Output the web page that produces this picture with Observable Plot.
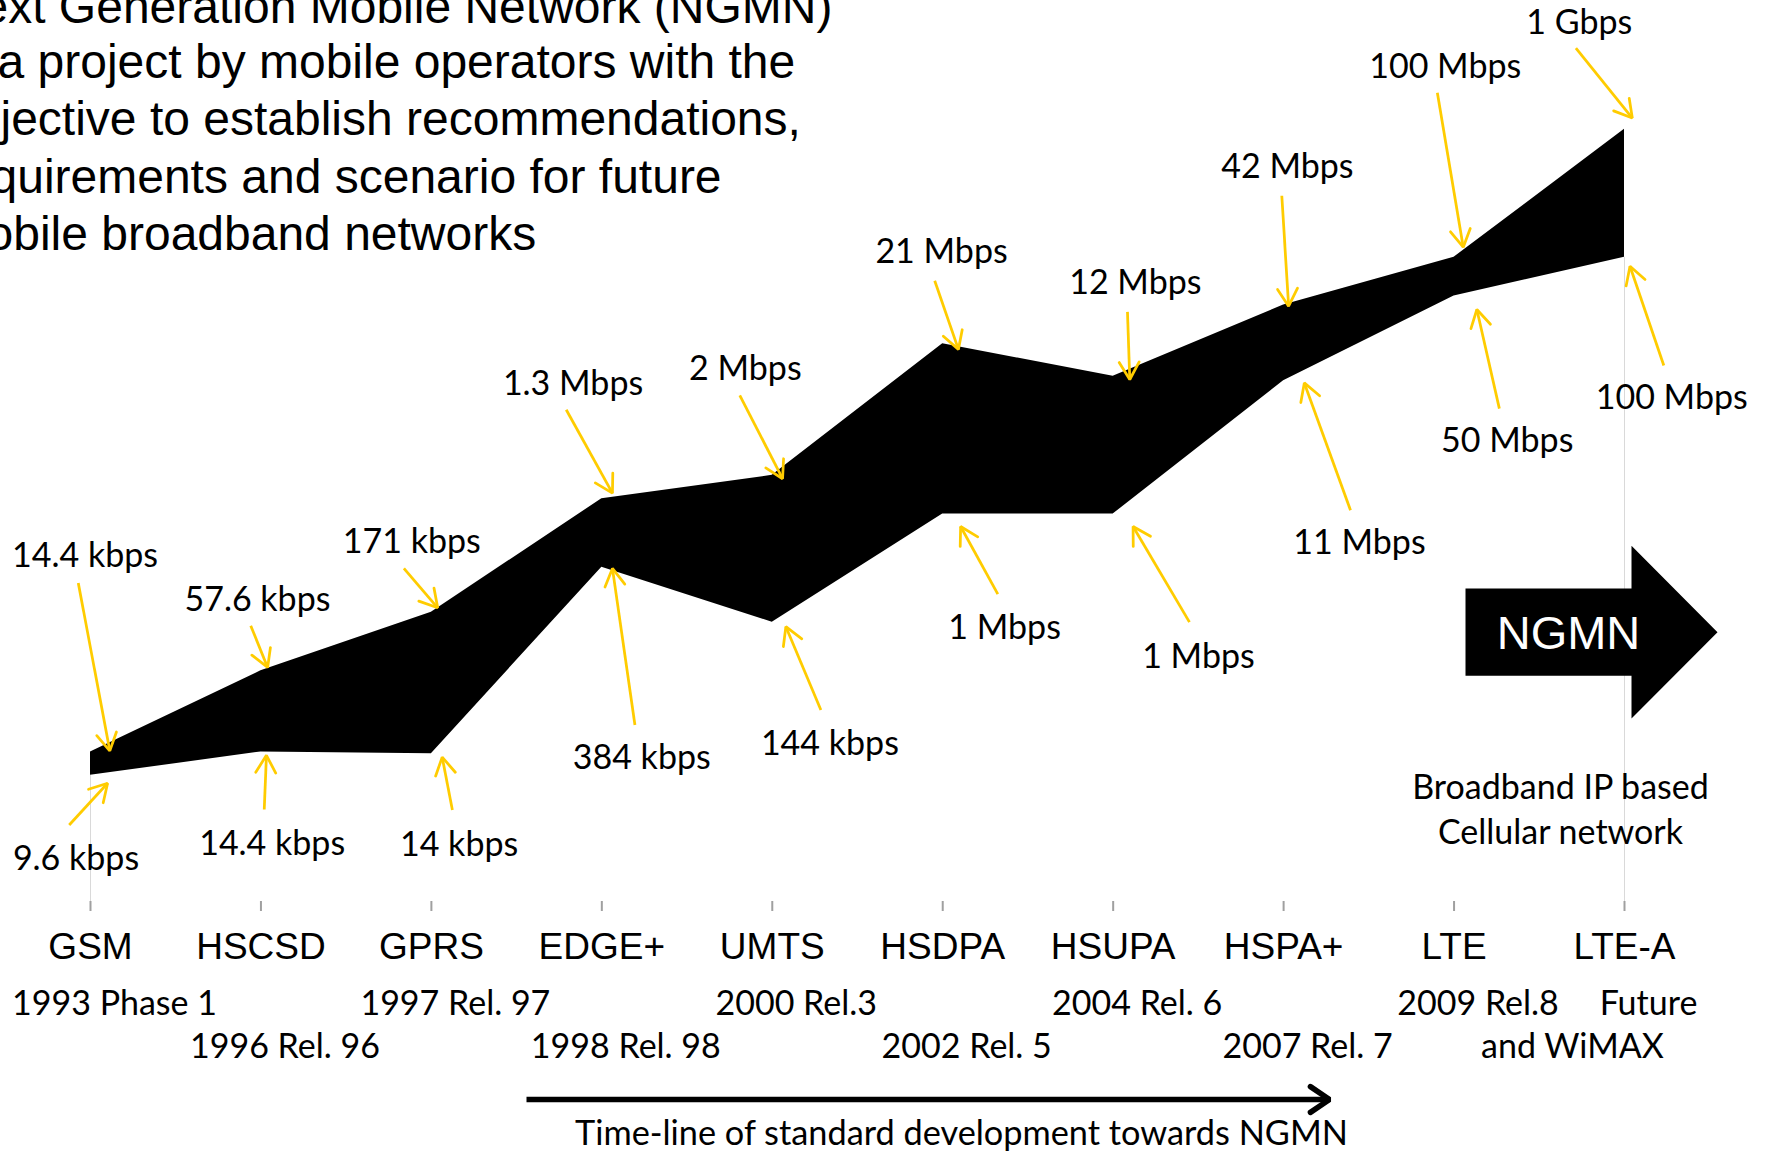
<!DOCTYPE html>
<html>
<head>
<meta charset="utf-8">
<script src="https://cdn.jsdelivr.net/npm/d3@7"></script>
<script src="https://cdn.jsdelivr.net/npm/@observablehq/plot@0.6"></script>
<style>
  html, body { margin: 0; padding: 0; background: #fff; overflow: hidden; }
  #chart svg { display: block; }
</style>
</head>
<body>
<div id="chart"></div>
<script>
// ---------------- data ----------------
const techs = ["GSM", "HSCSD", "GPRS", "EDGE+", "UMTS", "HSDPA", "HSUPA", "HSPA+", "LTE", "LTE-A"];
const releases = ["1993 Phase 1", "1996 Rel. 96", "1997 Rel. 97", "1998 Rel. 98", "2000 Rel.3",
                  "2002 Rel. 5", "2004 Rel. 6", "2007 Rel. 7", "2009 Rel.8", "Future"];
const releaseExtra = "and WiMAX";
const peakLabels = ["14.4 kbps", "57.6 kbps", "171 kbps", "1.3 Mbps", "2 Mbps",
                    "21 Mbps", "12 Mbps", "42 Mbps", "100 Mbps", "1 Gbps"];
const baseLabels = ["9.6 kbps", "14.4 kbps", "14 kbps", "384 kbps", "144 kbps",
                    "1 Mbps", "1 Mbps", "11 Mbps", "50 Mbps", "100 Mbps"];
// schematic vertical position of the band (0 = axis, 100 = top of chart)
const upperLevel = [16.6, 25.6, 32.1, 44.7, 47.3, 61.9, 58.3, 66.2, 71.5, 85.7];
const lowerLevel = [14.0, 16.6, 16.4, 37.1, 31.0, 43.0, 43.0, 57.8, 67.2, 71.5];
const titleLines = ["ext Generation Mobile Network (NGMN)",
                    "a project by mobile operators with the",
                    "jective to establish recommendations,",
                    "quirements and scenario for future",
                    "obile broadband networks"];
const ngmnText = "NGMN";
const noteLines = ["Broadband IP based", "Cellular network"];
const captionText = "Time-line of standard development towards NGMN";

// ---------------- layout ----------------
const W = 1767, H = 1152, ML = 90, MR = 143, MT = 0, MB = 251, YMAX = 100;
const kx = (W - ML - MR) / (techs.length - 1);
const ky = (H - MT - MB) / YMAX;
const toX = px => (px - ML) / kx;
const toY = py => YMAX - (py - MT) / ky;
const vx = i => ML + i * kx;
const vy = v => MT + (YMAX - v) * ky;

// label / arrow-tail / arrow-tip offsets (px) from each vertex
const upperLayout = [
  [-5.5, -196, -12.2, -169, 19.3, -1.1],
  [-3.5, -71, -10.2, -45.1, 6.7, -3.4],
  [-19.6, -69.9, -27.5, -43.9, 6.3, -4.5],
  [-28.8, -115, -35.6, -89, 10.6, -5.6],
  [-26.9, -105.9, -32.5, -80, 10.3, 3.4],
  [-1.2, -91.3, -8, -63.1, 15.7, 5.6],
  [22.2, -93.6, 14.3, -64.3, 16.6, 3.3],
  [3.8, -137.5, -1.8, -109.3, 5, 1.1],
  [-8.8, -190.4, -16.7, -164.5, 9.2, -10.1],
  [-45.2, -106, -48.6, -81.2, 7.8, -11.3]
];
const lowerLayout = [
  [-14.5, 83.4, -21.3, 49.6, 17.1, 7.9],
  [11.2, 92.5, 3.3, 57.5, 5.5, 3.4],
  [27.7, 91.3, 21, 56.3, 10.8, 3.4],
  [39.9, 190.5, 33.1, 157.8, 10.6, 1.2],
  [57.6, 121.7, 48.6, 87.8, 13.6, 4.5],
  [61.9, 113.8, 55.1, 80, 17.9, 12.4],
  [85.3, 143.1, 76.3, 108.1, 19.9, 12.4],
  [75.9, 162.2, 66.9, 129.6, 20.7, 2.2],
  [53.2, 145.3, 45.3, 112.6, 22.8, 13.5],
  [47.2, 140.9, 39.3, 108.2, 5.5, 9]
];

const band = techs.map((t, i) => ({i, tech: t, lower: lowerLevel[i], upper: upperLevel[i]}));

const annots = [];
techs.forEach((t, i) => {
  [[peakLabels, upperLevel, upperLayout], [baseLabels, lowerLevel, lowerLayout]].forEach(([labs, lev, lay]) => {
    const [ldx, ldy, tdx, tdy, hdx, hdy] = lay[i];
    const px = vx(i), py = vy(lev[i]);
    annots.push({text: labs[i], lx: px + ldx, ly: py + ldy, tx: px + tdx, ty: py + tdy, hx: px + hdx, hy: py + hdy});
  });
});

function headPts(a, len, halfDeg, id) {
  const ang = Math.atan2(a.hy - a.ty, a.hx - a.tx), h = halfDeg * Math.PI / 180;
  return [
    {id, px: a.hx - len * Math.cos(ang - h), py: a.hy - len * Math.sin(ang - h)},
    {id, px: a.hx, py: a.hy},
    {id, px: a.hx - len * Math.cos(ang + h), py: a.hy - len * Math.sin(ang + h)}
  ];
}
const yellowHeads = annots.flatMap((a, k) => headPts(a, 20, 30, k));

const timeline = {tx: 526, ty: 1099, hx: 1329, hy: 1099};
const timelineHead = headPts(timeline, 23, 34, 0);

// release labels under the axis
const releaseData = releases.map((r, i) => ({i, text: r, row: (i % 2 === 1) ? 1 : 0}));
releaseData[9].row = 0;
const rowY = [1004, 1046.5];

// NGMN block arrow around the LTE-A position
const ax = vx(techs.length - 1), ay = 631.7;
const ngmnShape = [[-159, -43.6], [7, -43.6], [7, -86.4], [93, 0], [7, 86.4], [7, 43.6], [-159, 43.6]]
  .map(([dx, dy]) => ({px: ax + dx, py: ay + dy}));

// description block (cropped at the page's left/top edge)
const titleX = [-19, -3, 0, -10, -14];
const titleBase = [23, 78, 135, 192.5, 250];

const ARIAL = "'Liberation Sans', Arial, sans-serif";
const CAL = "Lato, 'Open Sans', sans-serif";
const YEL = "#FFCC00";

const plot = Plot.plot({
  width: W, height: H,
  marginLeft: ML, marginRight: MR, marginTop: MT, marginBottom: MB,
  x: {domain: [0, techs.length - 1]},
  y: {domain: [0, YMAX], axis: null},
  style: {background: "#fff", fontFamily: CAL, overflow: "visible"},
  marks: [
    // faint outline of the lower (invisible) series at both ends
    Plot.ruleX([0, techs.length - 1], {x: d => d, y1: 0, y2: d => lowerLevel[d], stroke: "#d9d9d9", strokeWidth: 1}),
    // the speed band
    Plot.areaY(band, {x: "i", y1: "lower", y2: "upper", fill: "#000", curve: "linear"}),
    // category axis
    Plot.axisX(d3.range(techs.length), {
      anchor: "bottom", tickFormat: i => techs[i], tickSize: 10, tickPadding: 21,
      stroke: "#a0a0a0", strokeWidth: 2, fill: "#000", line: true, label: null,
      fontSize: 37, fontFamily: ARIAL
    }),
    // release labels
    Plot.text(releaseData, {x: d => d.i + 24 / kx, y: d => toY(rowY[d.row]), text: "text",
      fontSize: 34, fontFamily: CAL, fill: "#000"}),
    Plot.text([releaseExtra], {x: toX(1572), y: toY(rowY[1]), text: d => d, fontSize: 34, fontFamily: CAL, fill: "#000"}),
    // yellow annotation arrows
    Plot.link(annots, {x1: d => toX(d.tx), y1: d => toY(d.ty), x2: d => toX(d.hx), y2: d => toY(d.hy),
      stroke: YEL, strokeWidth: 2.75}),
    Plot.line(yellowHeads, {x: d => toX(d.px), y: d => toY(d.py), z: "id", stroke: YEL, strokeWidth: 2.75,
      strokeLinejoin: "miter"}),
    Plot.text(annots, {x: d => toX(d.lx), y: d => toY(d.ly), text: "text", fontSize: 34, fontFamily: CAL, fill: "#000"}),
    // NGMN block arrow
    Plot.line(ngmnShape, {x: d => toX(d.px), y: d => toY(d.py), fill: "#000", stroke: "none"}),
    Plot.text([ngmnText], {x: toX(1568), y: toY(ay + 1.5), text: d => d, fontSize: 47, fontFamily: ARIAL, fill: "#fff"}),
    Plot.text(noteLines, {x: toX(1560), y: (d, k) => toY(787.5 + 45 * k), text: d => d, fontSize: 34, fontFamily: CAL, fill: "#000"}),
    // time-line arrow and caption
    Plot.link([timeline], {x1: d => toX(d.tx), y1: d => toY(d.ty), x2: d => toX(d.hx), y2: d => toY(d.hy),
      stroke: "#000", strokeWidth: 5.5}),
    Plot.line(timelineHead, {x: d => toX(d.px), y: d => toY(d.py), z: "id", stroke: "#000", strokeWidth: 5.5,
      strokeLinejoin: "miter"}),
    Plot.text([captionText], {x: toX(961), y: toY(1134), text: d => d, fontSize: 34.3, fontFamily: CAL, fill: "#000"}),
    // cropped description at top-left
    Plot.text(titleLines, {x: (d, k) => toX(titleX[k]), y: (d, k) => toY(titleBase[k] - 15.4),
      text: d => d, textAnchor: "start", fontSize: 48, fontFamily: ARIAL, fill: "#000"})
  ]
});
document.getElementById("chart").appendChild(plot);
</script>
</body>
</html>
